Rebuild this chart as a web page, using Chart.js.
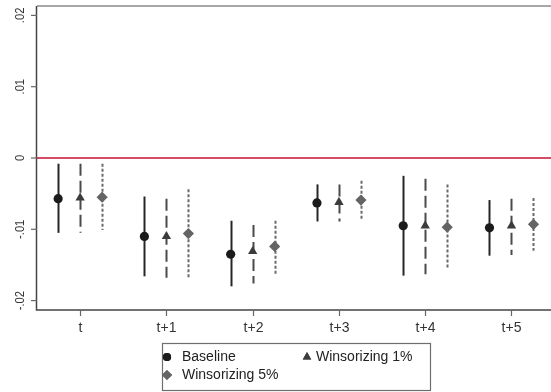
<!DOCTYPE html>
<html>
<head>
<meta charset="utf-8">
<script src="https://cdn.jsdelivr.net/npm/chart.js@4"></script>
<style>
html,body{margin:0;padding:0;background:#fff;overflow:hidden;}
canvas{display:block;}
</style>
</head>
<body>
<canvas id="c" width="551" height="392"></canvas>
<script>
const categories = ['t','t+1','t+2','t+3','t+4','t+5'];
const baseline   = [-0.0057,-0.0110,-0.0135,-0.0063,-0.0095,-0.0098];
const baselineLo = [-0.0105,-0.0166,-0.0180,-0.0089,-0.0165,-0.0137];
const baselineHi = [-0.0008,-0.0054,-0.0088,-0.0037,-0.0025,-0.0059];
const win1   = [-0.0056,-0.0110,-0.0131,-0.0062,-0.0095,-0.0095];
const win1Lo = [-0.0105,-0.0168,-0.0176,-0.0089,-0.0163,-0.0136];
const win1Hi = [-0.0008,-0.0057,-0.0094,-0.0037,-0.0029,-0.0057];
const win5   = [-0.0055,-0.0106,-0.0124,-0.0059,-0.0097,-0.0093];
const win5Lo = [-0.0101,-0.0168,-0.0164,-0.0087,-0.0156,-0.0130];
const win5Hi = [-0.0008,-0.0044,-0.0088,-0.0032,-0.0037,-0.0056];
const yTicks = [0.02,0.01,0,-0.01,-0.02];
const yTickLabels = ['.02','.01','0','-.01','-.02'];
const seriesNames = ['Baseline','Winsorizing 1%','Winsorizing 5%'];

const OFF = 0.255;
const FONT = '"Liberation Sans", Arial, sans-serif';
const styles = [
  {color:'#1b1b1b', line:'#262626', dash:[], shape:'circle', r:4.6},
  {color:'#3c3c3c', line:'#4a4a4a', dash:[12,5], shape:'triangle', r:5.4},
  {color:'#646464', line:'#6a6a6a', dash:[3,2], shape:'rectRot', r:5.6}
];
const series = [
  {v:baseline, lo:baselineLo, hi:baselineHi, off:-OFF},
  {v:win1, lo:win1Lo, hi:win1Hi, off:0},
  {v:win5, lo:win5Lo, hi:win5Hi, off:OFF}
];

const decor = {
  id:'decor',
  beforeDatasetsDraw(chart){
    const {ctx, chartArea:a, scales:{x,y}} = chart;
    ctx.save();
    // zero line
    ctx.strokeStyle = '#c8102e';
    ctx.lineWidth = 1.5;
    ctx.beginPath();
    const y0 = y.getPixelForValue(0);
    ctx.moveTo(a.left, y0); ctx.lineTo(a.right, y0); ctx.stroke();
    // error bars
    series.forEach((s,k)=>{
      const st = styles[k];
      ctx.strokeStyle = st.line;
      ctx.lineWidth = 2;
      ctx.setLineDash(st.dash);
      s.v.forEach((_,i)=>{
        const px = Math.round(x.getPixelForValue(i + s.off)) + 0.5;
        ctx.beginPath();
        ctx.moveTo(px, y.getPixelForValue(s.hi[i]));
        ctx.lineTo(px, y.getPixelForValue(s.lo[i]));
        ctx.stroke();
      });
    });
    ctx.setLineDash([]);
    // frame
    ctx.strokeStyle = '#8a8a8a';
    ctx.lineWidth = 1.5;
    ctx.beginPath(); ctx.moveTo(a.left, a.top); ctx.lineTo(a.right, a.top); ctx.stroke();
    ctx.strokeStyle = '#444';
    ctx.beginPath();
    ctx.moveTo(a.left - 0.5, a.top); ctx.lineTo(a.left - 0.5, a.bottom);
    ctx.lineTo(a.right, a.bottom);
    ctx.stroke();
    // y ticks
    ctx.strokeStyle = '#666';
    ctx.lineWidth = 1.2;
    ctx.fillStyle = '#333';
    ctx.font = '13px ' + FONT;
    ctx.textAlign = 'center';
    ctx.textBaseline = 'middle';
    yTicks.forEach((t,i)=>{
      const py = y.getPixelForValue(t);
      ctx.beginPath(); ctx.moveTo(a.left - 6, py); ctx.lineTo(a.left, py); ctx.stroke();
      ctx.save();
      ctx.translate(20, py);
      ctx.rotate(-Math.PI/2);
      ctx.scale(0.86, 1);
      ctx.fillText(yTickLabels[i], 0, 0);
      ctx.restore();
    });
    // x ticks
    ctx.font = '14px ' + FONT;
    ctx.textBaseline = 'middle';
    categories.forEach((c,i)=>{
      const px = Math.round(x.getPixelForValue(i)) + 0.5;
      ctx.beginPath(); ctx.moveTo(px, a.bottom); ctx.lineTo(px, a.bottom + 6); ctx.stroke();
      ctx.fillText(c, px, 328);
    });
    ctx.restore();
  },
  afterDraw(chart){
    const {ctx} = chart;
    ctx.save();
    ctx.fillStyle = '#fff';
    ctx.strokeStyle = '#6e6e6e';
    ctx.lineWidth = 1.2;
    ctx.fillRect(162.5, 343.5, 268, 47);
    ctx.strokeRect(162.5, 343.5, 268, 47);
    const items = [
      {k:0, mx:167, tx:182, ty:357},
      {k:1, mx:307, tx:316, ty:357},
      {k:2, mx:167, tx:182, ty:375}
    ];
    ctx.font = '14px ' + FONT;
    ctx.textAlign = 'left';
    ctx.textBaseline = 'middle';
    items.forEach(it=>{
      const st = styles[it.k];
      ctx.fillStyle = st.color;
      Chart.helpers.drawPoint(ctx, {pointStyle: st.shape, radius: st.r - 0.5, rotation: 0, borderWidth: 0}, it.mx, it.ty);
      ctx.fill();
      ctx.fillStyle = '#222';
      ctx.fillText(seriesNames[it.k], it.tx, it.ty + 0.5);
    });
    ctx.restore();
  }
};

const datasets = series.map((s,k)=>({
  label: seriesNames[k],
  data: s.v.map((v,i)=>({x:i + s.off, y:v})),
  pointStyle: styles[k].shape,
  pointRadius: styles[k].r,
  pointBackgroundColor: styles[k].color,
  pointBorderColor: styles[k].color,
  pointBorderWidth: 0,
  showLine: false,
  clip: false
}));

new Chart(document.getElementById('c'), {
  type: 'scatter',
  data: {datasets},
  options: {
    responsive: false,
    animation: false,
    events: [],
    layout: {autoPadding: false, padding: {left: 37, top: 6, right: 0, bottom: 82}},
    scales: {
      x: {type:'linear', min:-0.5, max:5.458, display:false},
      y: {type:'linear', min:-0.02132, max:0.02132, display:false}
    },
    plugins: {legend:{display:false}, tooltip:{enabled:false}}
  },
  plugins: [decor]
});
</script>
</body>
</html>
